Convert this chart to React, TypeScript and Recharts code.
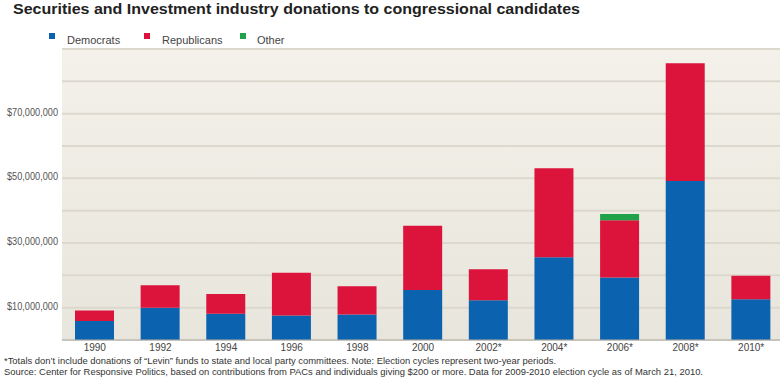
import React from 'react';
import { BarChart, Bar, XAxis, YAxis, CartesianGrid } from 'recharts';

const years = ['1990', '1992', '1994', '1996', '1998', '2000', '2002*', '2004*', '2006*', '2008*', '2010*'];
const democrats = [5900000, 10000000, 8100000, 7600000, 7900000, 15500000, 12300000, 25600000, 19300000, 49200000, 12600000];
const republicans = [3200000, 6900000, 6100000, 13200000, 8700000, 19800000, 9600000, 27500000, 17700000, 36400000, 7300000];
const other = [0, 0, 0, 0, 0, 0, 0, 0, 2000000, 0, 0];
const yTicks = [0, 10000000, 20000000, 30000000, 40000000, 50000000, 60000000, 70000000, 80000000, 90000000];
const yLabeled = [10000000, 30000000, 50000000, 70000000];

const TITLE = 'Securities and Investment industry donations to congressional candidates';
const NOTE1 = '*Totals don\u2019t include donations of \u201cLevin\u201d funds to state and local party committees. Note: Election cycles represent two-year periods.';
const NOTE2 = 'Source: Center for Responsive Politics, based on contributions from PACs and individuals giving $200 or more. Data for 2009-2010 election cycle as of March 21, 2010.';

const BLUE = '#0b62ae';
const RED = '#dc143c';
const GREEN = '#1fa24a';

const data = years.map((y, i) => ({ year: y, dem: democrats[i], rep: republicans[i], other: other[i] }));

const FONT = '"Liberation Sans", Arial, sans-serif';

const fmt = (v: number) => '$' + v.toLocaleString('en-US');

const YTick = (props: any) => {
  const { y, payload } = props;
  if (!yLabeled.includes(payload.value)) return null;
  return (
    <text x={58} y={y + 2} textAnchor="end" fontSize={10} fill="#555" fontFamily={FONT} textLength={51} lengthAdjust="spacingAndGlyphs">
      {fmt(payload.value)}
    </text>
  );
};

const XTick = (props: any) => {
  const { x, payload } = props;
  return (
    <text x={x} y={351} textAnchor="middle" fontSize={10} fill="#444" fontFamily={FONT}>
      {payload.value}
    </text>
  );
};

export default function App() {
  return (
    <div style={{ position: 'absolute', left: 0, top: 0, width: 780, height: 378, overflow: 'hidden', background: '#fff' }}>
      <div style={{ position: 'absolute', left: 62, top: 49, width: 722, height: 291, background: 'linear-gradient(#f4f1ea, #e8e5dc)' }} />
      <div style={{ position: 'absolute', left: 0, top: 0 }}>
        <BarChart width={784} height={378} data={data} margin={{ top: 49, right: 0, bottom: 18, left: 0 }} barSize={39}>
          <CartesianGrid vertical={false} stroke="#dcd8ce" strokeWidth={2} />
          <XAxis dataKey="year" height={20} axisLine={{ stroke: '#b3b0a8' }} tickLine={false} tick={<XTick />} interval={0} />
          <YAxis width={62} domain={[0, 90000000]} ticks={yTicks} axisLine={false} tickLine={false} tick={<YTick />} interval={0} />
          <Bar dataKey="dem" stackId="a" fill={BLUE} isAnimationActive={false} />
          <Bar dataKey="rep" stackId="a" fill={RED} isAnimationActive={false} />
          <Bar dataKey="other" stackId="a" fill={GREEN} isAnimationActive={false} />
        </BarChart>
      </div>
      <svg width={780} height={378} style={{ position: 'absolute', left: 0, top: 0, pointerEvents: 'none' }}>
        <text x={13} y={14} fontSize={15} fontWeight="bold" fill="#222" fontFamily={FONT} textLength={567} lengthAdjust="spacingAndGlyphs">
          {TITLE}
        </text>
        <rect x={49} y={33} width={6} height={6} fill={BLUE} />
        <text x={67} y={44} fontSize={11} fill="#444" fontFamily={FONT}>Democrats</text>
        <rect x={144} y={33} width={6} height={6} fill={RED} />
        <text x={162} y={44} fontSize={11} fill="#444" fontFamily={FONT}>Republicans</text>
        <rect x={240} y={33} width={6} height={6} fill={GREEN} />
        <text x={257} y={44} fontSize={11} fill="#444" fontFamily={FONT}>Other</text>
        <text x={4} y={364} fontSize={9} fill="#333" fontFamily={FONT} textLength={552} lengthAdjust="spacingAndGlyphs">
          {NOTE1}
        </text>
        <text x={4} y={375} fontSize={9} fill="#333" fontFamily={FONT} textLength={699} lengthAdjust="spacingAndGlyphs">
          {NOTE2}
        </text>
      </svg>
    </div>
  );
}
